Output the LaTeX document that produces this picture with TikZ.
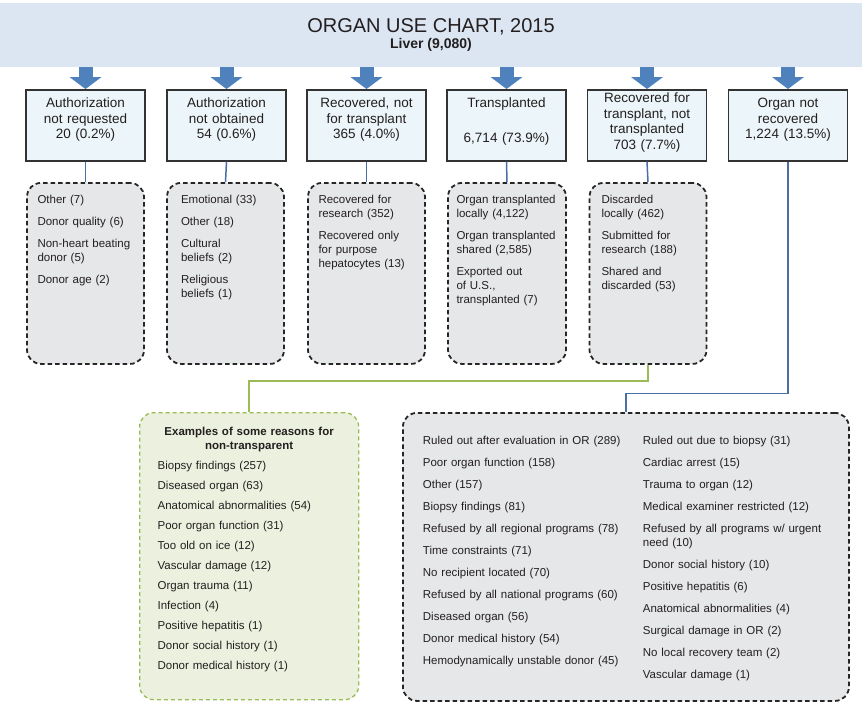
\documentclass[tikz,border=0pt]{standalone}
\usepackage{fontspec}
\setmainfont{Liberation Sans}
\usetikzlibrary{arrows.meta}
\definecolor{chartblue}{RGB}{220,230,242}
\definecolor{arrowblue}{RGB}{79,129,189}
\definecolor{boxblue}{RGB}{236,245,249}
\definecolor{linkblue}{RGB}{74,111,165}
\definecolor{listgray}{RGB}{230,231,233}
\definecolor{notegreen}{RGB}{235,241,222}
\definecolor{linkgreen}{RGB}{155,187,89}
\definecolor{inkgray}{RGB}{35,31,32}
\hyphenpenalty=10000
\exhyphenpenalty=10000

\begin{document}
\begin{tikzpicture}[x=1pt, y=-1pt]
  \tikzstyle{mytext}=[text=inkgray, inner sep=0pt];
  \tikzstyle{banner}=[mytext, fill=chartblue, minimum width=862pt, minimum height=64pt,
    align=center, font=\fontsize{14}{16}\selectfont];
  \tikzstyle{mybox}=[mytext, draw=black!80, line width=1.6pt, fill=boxblue, anchor=north,
    text width=119pt, align=center, text height=18pt, text depth=53pt,
    font=\fontsize{13.5}{15.5}\selectfont];
  \tikzstyle{mylist}=[mytext, draw=black!85, line width=1.8pt, dash pattern=on 4.5pt off 3pt,
    rounded corners=14pt, fill=listgray, anchor=north, text width=96pt, inner xsep=10.5pt,
    align=left, text height=21pt, text depth=160pt, font=\fontsize{11.5}{14}\selectfont];
  \tikzstyle{notebox}=[mylist, draw=linkgreen, fill=notegreen, line width=1.3pt,
    dash pattern=on 4pt off 3pt, anchor=north west, text width=183pt, inner xsep=18pt,
    text height=23pt, text depth=264pt, font=\fontsize{11.5}{20}\selectfont];
  \tikzstyle{myconn}=[line width=1.5pt, linkblue];
  \tikzstyle{bigarrow}=[line width=14pt, arrowblue,
    -{Triangle[width=32pt, length=12pt, line width=0pt]}];
  %
  \useasboundingbox (0,0) rectangle (862,702);
  %
  % header
  \node[banner] (chart) at (431,35)
    {{\fontsize{20}{16}\selectfont ORGAN USE CHART, 2015}\\{\bfseries Liver (9,080)}};
  %
  % outcomes
  \node[mybox] (notreq) at (85.5,89) {Authorization\\not requested\\20 (0.2\%)};
  \node[mybox] (notobt) at (226.5,89) {Authorization\\not obtained\\54 (0.6\%)};
  \node[mybox] (notfortx) at (366.5,89) {Recovered, not\\for transplant\\365 (4.0\%)};
  \node[mybox] (tx) at (506.5,89) {Transplanted\\[19.5pt]6,714 (73.9\%)};
  \node[mybox, text height=13pt, text depth=58pt] (notused) at (647,89)
    {Recovered for\\transplant, not\\transplanted\\703 (7.7\%)};
  \node[mybox] (notrec) at (788,89) {Organ not\\recovered\\1,224 (13.5\%)};
  %
  \foreach \b in {notreq,notobt,notfortx,tx,notused,notrec}
    \draw[bigarrow] (\b.north |- chart.south) -- (\b.north);
  %
  % reasons
  \node[mylist] (notreq-list) at (85.5,182)
    {Other (7)\\[8pt]Donor quality (6)\\[8pt]Non-heart beating\\donor (5)\\[8pt]Donor age (2)};
  \node[mylist, inner xsep=14pt, text width=89pt] (notobt-list) at (225.5,182)
    {Emotional (33)\\[8pt]Other (18)\\[8pt]Cultural\\beliefs (2)\\[8pt]Religious\\beliefs (1)};
  \node[mylist] (notfortx-list) at (366.5,182)
    {Recovered for\\research (352)\\[8pt]Recovered only\\for purpose\\hepatocytes (13)};
  \node[mylist, inner xsep=8.5pt, text width=101pt] (tx-list) at (507,182)
    {Organ transplanted\\locally (4,122)\\[8pt]Organ transplanted\\shared (2,585)\\[8pt]Exported out\\of U.S.,\\transplanted (7)};
  \node[mylist, inner xsep=12pt, text width=93pt] (notused-list) at (648,182)
    {Discarded\\locally (462)\\[8pt]Submitted for\\research (188)\\[8pt]Shared and\\discarded (53)};
  %
  \foreach \b in {notreq,notobt,notfortx,tx,notused}
    \draw[myconn] (\b.south) -- (\b-list.north);
  %
  % non-transplant reasons
  \node[notebox] (examples) at (139,412)
    {{\centering\bfseries\fontsize{11.5}{14}\selectfont Examples of some reasons for\\non-transparent\par}
     Biopsy findings (257)\\Diseased organ (63)\\Anatomical abnormalities (54)\\
     Poor organ function (31)\\Too old on ice (12)\\Vascular damage (12)\\Organ trauma (11)\\
     Infection (4)\\Positive hepatitis (1)\\Donor social history (1)\\Donor medical history (1)};
  %
  % not recovered reasons
  \node[mylist, anchor=north west, text width=406pt, inner xsep=20pt, text height=32pt,
    text depth=256pt] (orlist) at (402,412)
    {\parbox[t]{220pt}{\raggedright
       Ruled out after evaluation in OR (289)\\[8pt]Poor organ function (158)\\[8pt]
       Other (157)\\[8pt]Biopsy findings (81)\\[8pt]Refused by all regional programs (78)\\[8pt]
       Time constraints (71)\\[8pt]No recipient located (70)\\[8pt]
       Refused by all national programs (60)\\[8pt]Diseased organ (56)\\[8pt]
       Donor medical history (54)\\[8pt]Hemodynamically unstable donor (45)}%
     \parbox[t]{186pt}{\raggedright
       Ruled out due to biopsy (31)\\[8pt]Cardiac arrest (15)\\[8pt]Trauma to organ (12)\\[8pt]
       Medical examiner restricted (12)\\[8pt]Refused by all programs w/ urgent\\need (10)\\[8pt]
       Donor social history (10)\\[8pt]Positive hepatitis (6)\\[8pt]
       Anatomical abnormalities (4)\\[8pt]Surgical damage in OR (2)\\[8pt]
       No local recovery team (2)\\[8pt]Vascular damage (1)}};
  %
  \draw[myconn, linkgreen] (notused-list.south) -- ++(0,16) -| (examples.north);
  \draw[myconn] (notrec.south) -- ++(0,232) -| (orlist.north);
\end{tikzpicture}
\end{document}
